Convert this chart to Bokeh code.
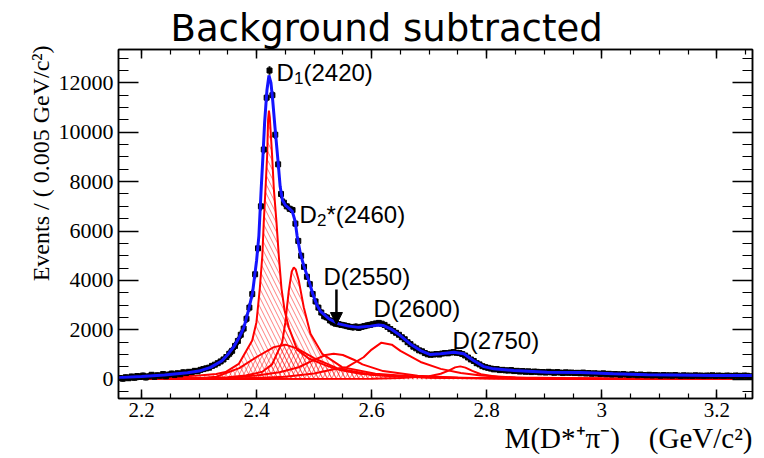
import numpy as np
from bokeh.plotting import figure
from bokeh.models import (Range1d, LinearAxis, SingleIntervalTicker, Label, Arrow, Title,
                          NormalHead, CustomJSTickFormatter, CustomLabelingPolicy)
from bokeh.embed import file_html
from bokeh.resources import INLINE

# ---------------- data ----------------
MASS_LO = 2.16          # lower edge of the first bin (GeV/c^2)
BIN_WIDTH = 0.005       # bin width (GeV/c^2)

counts = [
    50, 20, 80, 40, 110, 60, 130, 90, 150, 70, 120, 180, 100, 160, 140, 210, 120, 190, 230, 170,
    240, 200, 280, 250, 300, 290, 340, 320,
    380, 410, 440, 470, 540, 590, 650, 720, 800, 900, 1030, 1150, 1350, 1550, 1800, 2050, 2450, 2900, 3450, 4250,
    5300, 7000, 9300, 11400, 12500, 11500, 9900, 8700, 7500, 7150, 7000, 6900, 6850, 6300, 5600, 5000, 4550, 4150, 3850, 3450,
    3150, 2900, 2700, 2550, 2500, 2380, 2300, 2250, 2230, 2200, 2180, 2150, 2120, 2100, 2130, 2080, 2120, 2150, 2180, 2200,
    2230, 2260, 2280, 2250, 2200, 2120, 2030, 1950, 1880, 1800, 1700, 1620, 1500, 1420, 1320, 1250, 1170, 1130, 1060, 1010,
    990, 1000, 1020, 1000, 1040, 1060, 1050, 1080, 1100, 1070, 1060, 1020, 960, 880, 800, 740, 650, 600, 530, 490,
    460, 430, 400, 410, 370, 380, 360, 350, 370, 330, 340, 310, 330, 300, 320, 290, 310, 300, 280, 290,
    270, 300, 280, 260, 290, 270, 250, 280, 260, 270, 250, 260, 240, 270, 230, 250, 220, 240, 230, 210,
    240, 200, 220, 190, 210, 200, 180, 210, 190, 170, 200, 180, 160, 190, 170, 160, 180, 150, 170, 160,
    140, 170, 150, 160, 140, 170, 150, 130, 160, 140, 150, 130, 160, 140, 150, 130, 150, 140, 160, 130,
    150, 140, 130, 150, 140, 130, 150, 140, 130, 150, 140, 120,
]
# size of the error bars by mass region
err_edges = [2.16, 2.35, 2.45, 2.60, 3.27]
err_sizes = [110, 170, 130, 90]

# total fit (blue)
fit_x = [2.160, 2.200, 2.240, 2.280, 2.300, 2.320, 2.340, 2.350, 2.360, 2.370, 2.378, 2.386, 2.393,
         2.400, 2.404, 2.408, 2.411, 2.414, 2.418, 2.4215, 2.425, 2.428, 2.432, 2.437, 2.441, 2.445,
         2.450, 2.455, 2.462, 2.467, 2.4705, 2.476, 2.482, 2.4907, 2.4977, 2.505, 2.511, 2.5255,
         2.543, 2.560, 2.5776, 2.598, 2.612, 2.620, 2.633, 2.650, 2.667, 2.685, 2.702, 2.720, 2.743,
         2.760, 2.777, 2.795, 2.812, 2.847, 2.905, 2.963, 3.020, 3.079, 3.194, 3.262]
fit_y = [60, 110, 170, 260, 330, 480, 750, 1000, 1300, 1700, 2100, 2800, 3500,
         4800, 5800, 7700, 9000, 10400, 11700, 12300, 12000, 11300, 10200, 8900, 7800, 7250,
         7050, 6950, 6800, 6400, 5800, 5100, 4600, 4000, 3450, 3000, 2750, 2450,
         2240, 2150, 2100, 2150, 2200, 2180, 2040, 1770, 1430, 1160, 1000, 1030, 1090,
         1030, 760, 510, 420, 350, 280, 270, 220, 180, 150, 150]

# D1(2420) component (hatched)
d1_x = [2.160, 2.240, 2.300, 2.330, 2.346, 2.369, 2.3924, 2.3998, 2.4056, 2.410, 2.4125, 2.4155, 2.4184,
        2.4200, 2.4215, 2.4230, 2.427, 2.430, 2.4346, 2.4386, 2.4433, 2.449, 2.456, 2.4705, 2.490,
        2.520, 2.545, 2.580, 2.640, 2.750, 2.900, 3.262]
d1_y = [30, 80, 150, 210, 290, 620, 1570, 2310, 3670, 5010, 6360, 7710, 9060,
        10500, 10880, 10600, 9060, 7710, 6360, 5010, 3670, 2750, 2100, 1200, 850,
        560, 370, 220, 110, 50, 20, 10]

# D2*(2460) component (hatched)
d2_x = [2.160, 2.300, 2.350, 2.381, 2.410, 2.427, 2.4446, 2.450, 2.456, 2.461, 2.4647, 2.468, 2.4733,
        2.482, 2.4937, 2.514, 2.5487, 2.6066, 2.680, 2.800, 3.262]
d2_y = [10, 40, 80, 150, 300, 600, 1500, 2300, 3590, 4350, 4530, 4450, 4000,
        2915, 1840, 1030, 490, 220, 100, 40, 10]

# broad component under D1 / D2 (cross hatched)
br_x = [2.160, 2.300, 2.330, 2.370, 2.400, 2.430, 2.450, 2.470, 2.500, 2.540, 2.600, 2.700, 2.900, 3.262]
br_y = [10, 40, 100, 450, 900, 1300, 1400, 1250, 850, 450, 180, 60, 20, 10]

# D(2550)
d2550_x = [2.160, 2.350, 2.400, 2.440, 2.4733, 2.500, 2.520, 2.534, 2.550, 2.570, 2.584, 2.620, 2.680, 2.750, 2.900, 3.262]
d2550_y = [10, 60, 150, 280, 486, 780, 980, 1030, 980, 780, 600, 330, 140, 60, 20, 10]

# D(2600)
d2600_x = [2.160, 2.400, 2.450, 2.500, 2.530, 2.557, 2.586, 2.600, 2.617, 2.635, 2.650, 2.685, 2.720, 2.755, 2.790, 2.850, 3.000, 3.262]
d2600_y = [10, 50, 100, 230, 380, 486, 890, 1200, 1480, 1400, 1150, 700, 420, 250, 150, 70, 30, 10]

# D(2750)
d2750_x = [2.160, 2.600, 2.650, 2.700, 2.720, 2.735, 2.745, 2.754, 2.763, 2.775, 2.790, 2.820, 2.880, 3.262]
d2750_y = [5, 20, 50, 120, 220, 360, 480, 520, 470, 340, 200, 90, 40, 10]

# annotations: text pieces, anchor (mass, events), pixel offsets, font size
ann_pieces = [
    ("D",       2.4346, 12420, 0,    0, "24px"),
    ("1",       2.4346, 12420, 17.5, -6, "17px"),
    ("(2420)",  2.4346, 12420, 27,   0, "24px"),
    ("D",       2.4745, 6670,  0,    0, "24px"),
    ("2",       2.4745, 6670,  17.5, -6, "17px"),
    ("*(2460)", 2.4745, 6670,  27,   0, "24px"),
    ("D(2550)", 2.5162, 4160,  0,    0, "24px"),
    ("D(2600)", 2.6031, 2860,  0,    0, "24px"),
    ("D(2750)", 2.7404, 1570,  0,    0, "24px"),
]
arrow_mass = 2.5388
arrow_from = 3630
arrow_to = 2215

X_LIM = (2.16, 3.262)
Y_LIM = (-780, 13350)

# ---------------- figure ----------------
p = figure(width=764, height=458, x_range=Range1d(*X_LIM), y_range=Range1d(*Y_LIM),
           output_backend="svg", toolbar_location=None, title_location=None,
           min_border_left=118, min_border_right=12, min_border_top=49, min_border_bottom=60)
p.background_fill_color = "white"
p.border_fill_color = "white"
p.outline_line_color = "black"
p.outline_line_width = 1.5
p.xgrid.visible = False
p.ygrid.visible = False

RED = "#ff0000"
BLUE = "#1414ff"

# hatched components
p.varea(x=br_x, y1=0, y2=br_y, fill_alpha=0, hatch_pattern="right_diagonal_line",
        hatch_color=RED, hatch_alpha=0.5, hatch_scale=9, hatch_weight=1)
p.varea(x=d1_x, y1=0, y2=d1_y, fill_alpha=0, hatch_pattern="left_diagonal_line",
        hatch_color=RED, hatch_alpha=0.5, hatch_scale=9, hatch_weight=1)
p.varea(x=d2_x, y1=0, y2=d2_y, fill_alpha=0, hatch_pattern="left_diagonal_line",
        hatch_color=RED, hatch_alpha=0.5, hatch_scale=9, hatch_weight=1)

for cx, cy in [(br_x, br_y), (d2550_x, d2550_y), (d2600_x, d2600_y), (d2750_x, d2750_y),
               (d2_x, d2_y), (d1_x, d1_y)]:
    p.line(cx, cy, line_color=RED, line_width=2)

# data points
counts_arr = np.array(counts, dtype=float)
centers = MASS_LO + BIN_WIDTH * (np.arange(len(counts_arr)) + 0.5)
err = np.array(err_sizes)[np.clip(np.searchsorted(err_edges, centers) - 1, 0, len(err_sizes) - 1)]
p.segment(x0=centers, y0=counts_arr - err, x1=centers, y1=counts_arr + err,
          line_color="black", line_width=2)
p.scatter(centers, counts_arr, marker="square", size=5, color="black")

# total fit
p.line(fit_x, fit_y, line_color=BLUE, line_width=3)

# ---------------- axes ----------------
xfmt = CustomJSTickFormatter(code="return (Math.round(tick*10)/10).toString();")
blank_fmt = CustomJSTickFormatter(code="return '';")
hide_all = CustomLabelingPolicy(code="for (const i of indices) { indices.unset(i) }\nreturn indices")

def style_axis(ax, major, minor):
    ax.major_tick_in = major
    ax.major_tick_out = 0
    ax.minor_tick_in = minor
    ax.minor_tick_out = 0
    ax.axis_line_color = "black"
    ax.axis_line_width = 1.5
    ax.major_tick_line_color = "black"
    ax.major_tick_line_width = 1.5
    ax.minor_tick_line_color = "black"
    ax.minor_tick_line_width = 1.2
    ax.major_label_text_font = "Liberation Serif"
    ax.major_label_text_color = "black"

def blank_axis(ax):
    ax.formatter = blank_fmt
    ax.major_label_policy = hide_all
    ax.major_label_standoff = 0
    ax.major_label_text_font_size = "0px"

xa = p.xaxis[0]
xa.ticker = SingleIntervalTicker(interval=0.2, num_minor_ticks=4)
xa.formatter = xfmt
style_axis(xa, 9, 5)
xa.major_label_text_font_size = "21px"
xa.major_label_standoff = 4

ya = p.yaxis[0]
ya.ticker = SingleIntervalTicker(interval=2000, num_minor_ticks=4)
style_axis(ya, 20, 10)
ya.major_label_text_font_size = "22px"
ya.major_label_standoff = 5

top_ax = LinearAxis(ticker=SingleIntervalTicker(interval=0.2, num_minor_ticks=4))
style_axis(top_ax, 9, 5)
blank_axis(top_ax)
p.add_layout(top_ax, "above")
right_ax = LinearAxis(ticker=SingleIntervalTicker(interval=2000, num_minor_ticks=4))
style_axis(right_ax, 20, 10)
blank_axis(right_ax)
p.add_layout(right_ax, "right")

# ---------------- texts ----------------
for txt, ax_, ay_, dx, dy, fs in ann_pieces:
    p.add_layout(Label(x=ax_, y=ay_, x_offset=dx, y_offset=dy, text=txt,
                       text_font="Liberation Sans", text_font_size=fs, text_color="black",
                       text_baseline="alphabetic", text_align="left"))

p.add_layout(Arrow(end=NormalHead(size=12, fill_color="black", line_color="black"),
                   x_start=arrow_mass, y_start=arrow_from, x_end=arrow_mass, y_end=arrow_to,
                   line_color="black", line_width=2.5))

# title and axis titles as side titles
p.add_layout(Title(text="Background subtracted", align="left", offset=52, standoff=0,
                   text_font="DejaVu Sans", text_font_size="37px", text_font_style="normal",
                   text_color="black"), "above")
p.add_layout(Title(text="Events / ( 0.005 GeV/c\u00b2)", align="right", offset=-4, standoff=3,
                   text_font="Liberation Serif", text_font_size="24px", text_font_style="normal",
                   text_color="black"), "left")
p.add_layout(Title(text="M(D*\u207a\u03c0\u207b)\u00a0\u00a0\u00a0\u00a0(GeV/c\u00b2)", align="right",
                   standoff=0, offset=0,
                   text_font="Liberation Serif", text_font_size="29px", text_font_style="normal",
                   text_color="black"), "below")

open("out.html", "w").write(file_html(p, INLINE))
